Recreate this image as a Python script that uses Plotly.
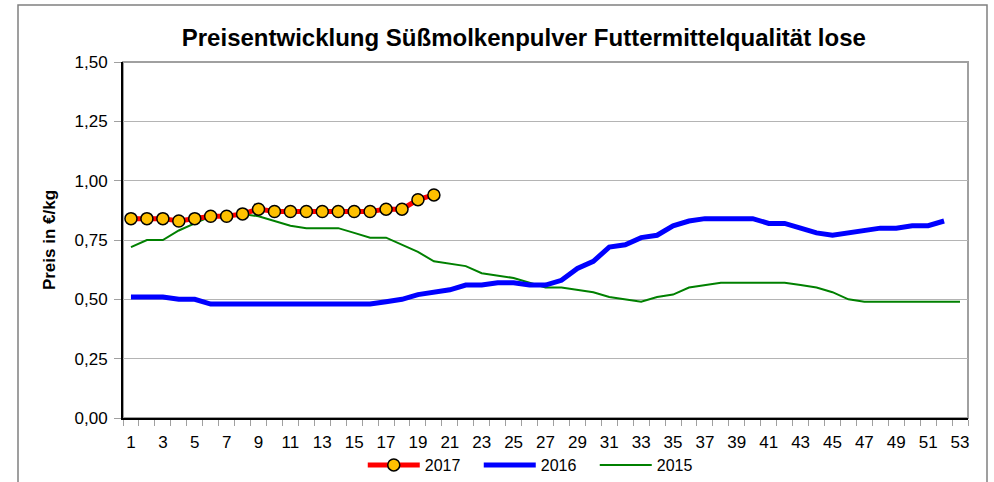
import plotly.graph_objects as go

weeks = list(range(1, 54))
tick_weeks = list(range(1, 54, 2))

y2017 = [0.84, 0.84, 0.84, 0.83, 0.84, 0.85, 0.85, 0.86, 0.88, 0.87,
         0.87, 0.87, 0.87, 0.87, 0.87, 0.87, 0.88, 0.88, 0.92, 0.94]

y2016 = [0.51, 0.51, 0.51, 0.50, 0.50, 0.48, 0.48, 0.48, 0.48, 0.48,
         0.48, 0.48, 0.48, 0.48, 0.48, 0.48, 0.49, 0.50, 0.52, 0.53,
         0.54, 0.56, 0.56, 0.57, 0.57, 0.56, 0.56, 0.58, 0.63, 0.66,
         0.72, 0.73, 0.76, 0.77, 0.81, 0.83, 0.84, 0.84, 0.84, 0.84,
         0.82, 0.82, 0.80, 0.78, 0.77, 0.78, 0.79, 0.80, 0.80, 0.81,
         0.81, 0.83]

y2015 = [0.72, 0.75, 0.75, 0.79, 0.82, 0.85, 0.86, 0.86, 0.85, 0.83,
         0.81, 0.80, 0.80, 0.80, 0.78, 0.76, 0.76, 0.73, 0.70, 0.66,
         0.65, 0.64, 0.61, 0.60, 0.59, 0.57, 0.55, 0.55, 0.54, 0.53,
         0.51, 0.50, 0.49, 0.51, 0.52, 0.55, 0.56, 0.57, 0.57, 0.57,
         0.57, 0.57, 0.56, 0.55, 0.53, 0.50, 0.49, 0.49, 0.49, 0.49,
         0.49, 0.49, 0.49]

y_ticks = [0, 0.25, 0.5, 0.75, 1.0, 1.25, 1.5]

FONT = "Liberation Sans, Arial, sans-serif"

fig = go.Figure()

fig.add_trace(go.Scatter(
    x=weeks[:len(y2015)], y=y2015, name="2015", mode="lines",
    line=dict(color="#008000", width=2), legendrank=3))
fig.add_trace(go.Scatter(
    x=weeks[:len(y2016)], y=y2016, name="2016", mode="lines",
    line=dict(color="#0000FF", width=5), legendrank=2))
fig.add_trace(go.Scatter(
    x=weeks[:len(y2017)], y=y2017, name="2017", mode="lines+markers",
    line=dict(color="#FF0000", width=5),
    marker=dict(symbol="circle", size=12, color="#FFC000",
                line=dict(color="#000000", width=1.5)),
    legendrank=1))

fig.update_layout(
    width=994, height=482,
    margin=dict(l=123, r=26, t=62, b=64, autoexpand=False),
    paper_bgcolor="white", plot_bgcolor="white",
    separators=",.",
    font=dict(family=FONT, size=17, color="#000000"),
    title=dict(text="<b>Preisentwicklung Süßmolkenpulver Futtermittelqualität lose</b>",
               font=dict(family=FONT, size=24, color="#000000"),
               x=0.527, xanchor="center", xref="container",
               y=1 - 38 / 482, yanchor="middle", yref="container"),
    showlegend=True,
    legend=dict(orientation="h", x=0.540, xanchor="center", xref="container",
                y=1 - 465 / 482, yanchor="middle", yref="container",
                font=dict(size=16, family=FONT),
                itemwidth=52, entrywidth=49, entrywidthmode="pixels",
                bgcolor="rgba(0,0,0,0)", traceorder="normal"),
    xaxis=dict(range=[0.5, 53.5], tickvals=tick_weeks,
               ticktext=[str(t) for t in tick_weeks],
               ticks="", showgrid=False, zeroline=False, automargin=False,
               showline=True, linecolor="#000000", linewidth=2,
               tickfont=dict(size=17), ticklabelstandoff=8,
               minor=dict(ticks="outside", tick0=0.5, dtick=1, ticklen=6,
                          tickcolor="#a0a0a0", showgrid=False)),
    yaxis=dict(range=[0, 1.5], tickvals=y_ticks, tickformat=".2f",
               ticks="outside", ticklen=7, tickcolor="#a0a0a0",
               showgrid=True, gridcolor="#b4b4b4", gridwidth=1,
               zeroline=False, showline=True, linecolor="#000000", linewidth=2,
               tickfont=dict(size=17), ticklabelstandoff=3, automargin=False,
               title=dict(text="<b>Preis in €/kg</b>", font=dict(size=17),
                          standoff=15)),
)

# plot-area border (gray top/right)
fig.add_shape(type="rect", xref="x domain", yref="y domain",
              x0=0, x1=1, y0=0, y1=1, line=dict(color="#a0a0a0", width=2),
              layer="below")
# outer chart frame
fig.add_shape(type="rect", xref="paper", yref="paper",
              x0=(18 - 123) / 845, x1=(987 - 123) / 845,
              y0=(418 - 490) / 356, y1=(418 - 5) / 356,
              line=dict(color="#808080", width=1.5))

fig.write_html("out.html",
               config={"displayModeBar": False},
               post_script="document.body.style.margin='0';"
                           "document.body.style.overflow='hidden';")
